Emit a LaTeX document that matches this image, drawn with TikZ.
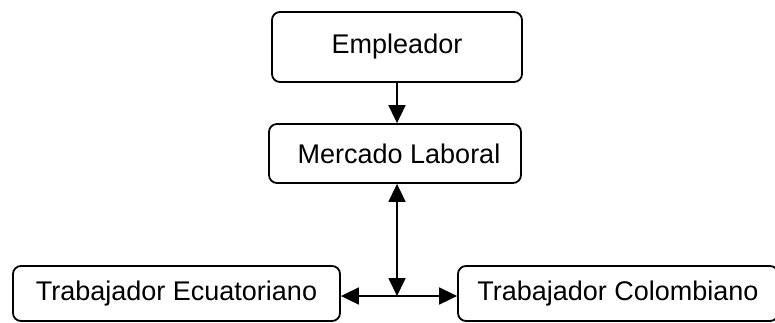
\documentclass[tikz,border=0pt]{standalone}
\usepackage{fontspec}
\setmainfont{Liberation Sans}
\usetikzlibrary{arrows.meta}

\begin{document}
\begin{tikzpicture}[x=1pt,y=-1pt,line width=1.8pt,
  >={Triangle[length=18pt,width=17pt]},
  caja/.style={rectangle,rounded corners=8pt,draw,inner sep=0pt,
  font=\fontsize{27}{31}\selectfont}]

  \useasboundingbox (0,0) rectangle (775,322);

  \node[caja, minimum width=250pt, minimum height=70pt] (E) at (397,47) {Empleador};
  \node[caja, minimum width=252pt, minimum height=59pt] (M) at (395,153.5) {\hspace{8pt}Mercado Laboral};
  \node[caja, minimum width=327pt, minimum height=55pt] (TE) at (176.5,293.5) {Trabajador Ecuatoriano};
  \node[caja, minimum width=320pt, minimum height=55pt] (TC) at (618,293.5) {Trabajador Colombiano};

  \coordinate (J) at (397,296);

  % flechas
  \draw[->] (J |- E.south) -- (J |- M.north);
  \draw[<->] (J |- M.south) -- (J);
  \draw[->] (J) -- (TE.east |- J);
  \draw[->] (J) -- (TC.west |- J);

\end{tikzpicture}
\end{document}
